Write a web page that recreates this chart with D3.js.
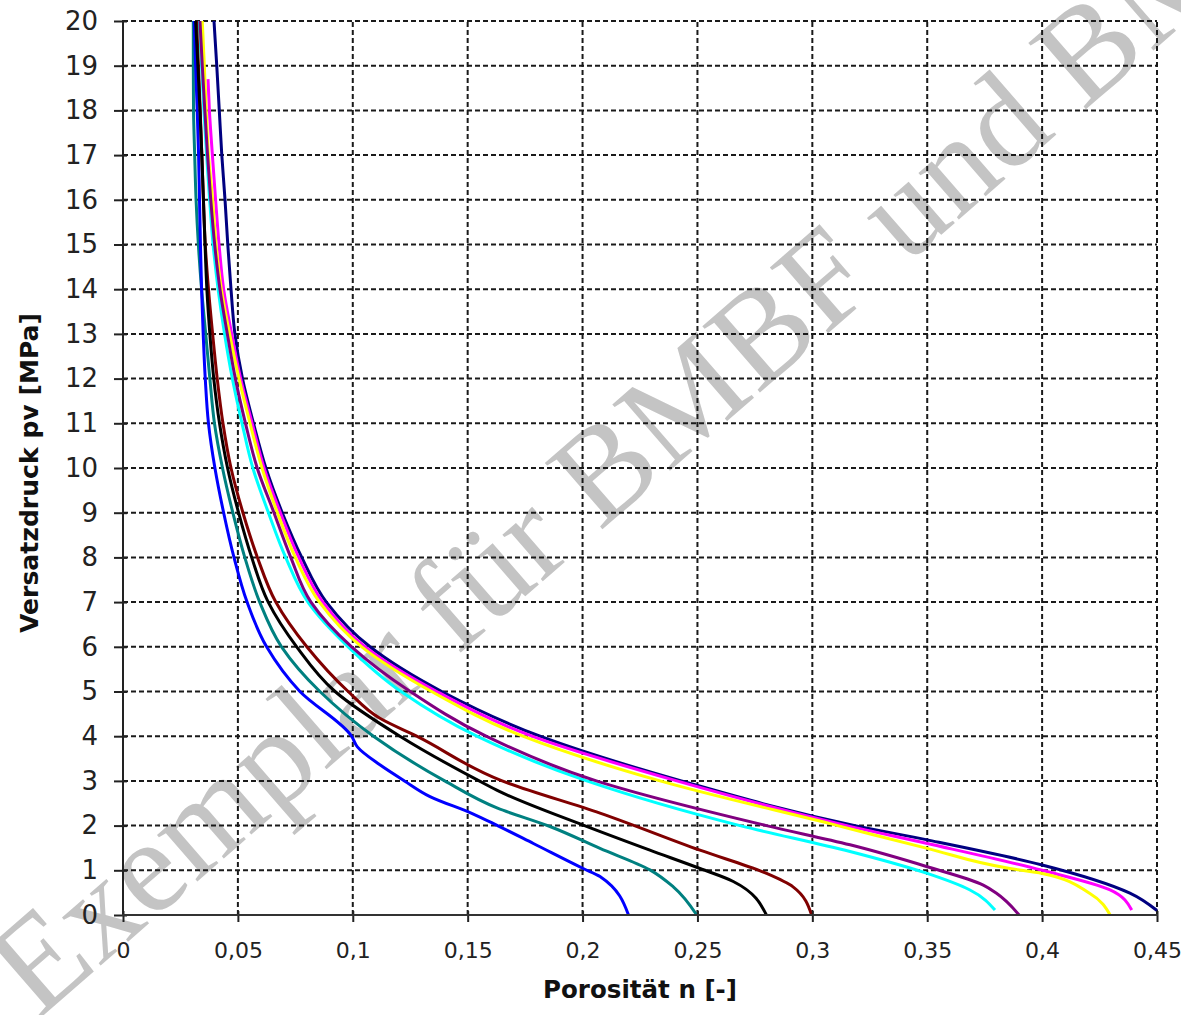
<!DOCTYPE html>
<html><head><meta charset="utf-8">
<script src="https://cdn.jsdelivr.net/npm/d3@7"></script>
<style>html,body{margin:0;padding:0;background:#fff;} svg{display:block;}</style>
</head><body>
<svg id="chart" width="1181" height="1015"></svg>
<script>
// ---- data ----
const xTickValues = [0, 0.05, 0.1, 0.15, 0.2, 0.25, 0.3, 0.35, 0.4, 0.45];
const xTickLabels = ["0", "0,05", "0,1", "0,15", "0,2", "0,25", "0,3", "0,35", "0,4", "0,45"];
const yTickValues = [0,1,2,3,4,5,6,7,8,9,10,11,12,13,14,15,16,17,18,19,20];
const yTickLabels = ["0","1","2","3","4","5","6","7","8","9","10","11","12","13","14","15","16","17","18","19","20"];
const xTitle = "Porosität n [-]";
const yTitle = "Versatzdruck pv [MPa]";
const watermark = "Exemplar für BMBF und BMWi";

// [porosity n, pressure p]
const navy = [[0.0396,20],[0.0408,19],[0.0419,18],[0.0430,17],[0.0444,16],[0.0456,15],[0.0470,14],[0.0487,13],[0.0520,12],[0.0568,11],[0.0622,10],[0.0693,9],[0.0778,8],[0.0885,7],[0.1075,6],[0.1387,5],[0.1815,4],[0.243,3],[0.3186,2],[0.350,1.68],[0.400,1.12],[0.4382,0.49],[0.450,0.1]];
const magenta = [[0.0370,18.7],[0.0376,18],[0.0389,17],[0.0403,16],[0.0418,15],[0.0438,14],[0.0473,13],[0.0512,12],[0.0562,11],[0.0614,10],[0.0685,9],[0.0765,8],[0.0870,7],[0.1053,6],[0.1365,5],[0.178,4],[0.241,3],[0.315,2],[0.350,1.6],[0.400,1.0],[0.4296,0.56],[0.439,0.11]];
const yellow = [[0.0345,20],[0.0354,19],[0.0362,18],[0.0372,17],[0.0390,16],[0.0405,15],[0.0428,14],[0.0464,13],[0.0505,12],[0.0553,11],[0.0605,10],[0.0672,9],[0.0750,8],[0.0855,7],[0.1039,6],[0.1343,5],[0.174,4],[0.2337,3],[0.311,2],[0.350,1.49],[0.386,1.04],[0.400,0.93],[0.4208,0.48],[0.4296,0]];
const cyan = [[0.0331,20],[0.0342,19],[0.0352,18],[0.0364,17],[0.0377,16],[0.0392,15],[0.0414,14],[0.0442,13],[0.0476,12],[0.0518,11],[0.0565,10],[0.0633,9],[0.0708,8],[0.0805,7],[0.0980,6],[0.1210,5],[0.154,4],[0.2018,3],[0.2685,2],[0.3164,1.42],[0.350,0.93],[0.3686,0.56],[0.3795,0.11]];
const purple = [[0.0335,20],[0.0345,19],[0.0356,18],[0.0368,17],[0.0382,16],[0.0399,15],[0.0422,14],[0.0454,13],[0.0489,12],[0.0533,11],[0.0584,10],[0.0657,9],[0.0730,8],[0.0818,7],[0.0995,6],[0.1250,5],[0.158,4],[0.206,3],[0.280,2],[0.3164,1.57],[0.350,1.08],[0.3744,0.67],[0.380,0.49],[0.390,0]];
const maroon = [[0.0320,20],[0.0328,19],[0.0336,18],[0.0343,17],[0.0350,16],[0.0358,15],[0.0372,14],[0.0390,13],[0.0410,12],[0.0435,11],[0.0470,10],[0.0522,9],[0.0585,8],[0.0665,7],[0.0800,6],[0.0980,5],[0.1118,4.4],[0.1278,4],[0.165,3],[0.2076,2.28],[0.2511,1.45],[0.2801,0.93],[0.2916,0.63],[0.2997,0]];
const teal = [[0.0306,20],[0.0306,19],[0.0307,18],[0.0312,17],[0.0318,16],[0.0328,15],[0.0342,14],[0.0360,13],[0.0378,12],[0.0398,11],[0.0433,10],[0.0478,9],[0.0530,8],[0.0595,7],[0.0690,6],[0.0857,5],[0.109,4],[0.140,3],[0.1630,2.39],[0.1858,1.98],[0.2076,1.49],[0.2293,1.01],[0.2395,0.63],[0.2497,0]];
const blue = [[0.0310,20],[0.0316,19],[0.0323,18],[0.0329,17],[0.0333,16],[0.0337,15],[0.0342,14],[0.0349,13],[0.0358,12],[0.0372,11],[0.0400,10],[0.0438,9],[0.0483,8],[0.0540,7],[0.0625,6],[0.0770,5],[0.0995,4],[0.1020,3.76],[0.1118,3.36],[0.1225,3],[0.1336,2.65],[0.1520,2.27],[0.1630,2],[0.1786,1.6],[0.2003,1.04],[0.2076,0.86],[0.220,0]];
const black = [[0.0316,20],[0.0326,19],[0.0335,18],[0.0343,17],[0.0350,16],[0.0357,15],[0.0365,14],[0.0378,13],[0.0395,12],[0.0420,11],[0.0455,10],[0.0503,9],[0.0560,8],[0.0632,7],[0.0756,6],[0.0923,5],[0.1205,4],[0.155,3],[0.164,2.76],[0.2003,2.01],[0.2293,1.45],[0.2511,1.04],[0.2656,0.75],[0.280,0]];

const seriesData = [navy, magenta, yellow, cyan, purple, maroon, teal, blue, black];
const seriesColors = ["#000080","#FF00FF","#FFFF00","#00FFFF","#800080","#800000","#008080","#0000FF","#000000"];

// ---- chart ----
const svg = d3.select("#chart");
const x = d3.scaleLinear().domain([0, 0.45]).range([123, 1157]);
const y = d3.scaleLinear().domain([0, 20]).range([915, 21]);

// watermark (beneath everything)
svg.append("text")
  .attr("transform", "translate(38,1020) rotate(-41)")
  .attr("font-family", "'Liberation Serif', 'DejaVu Serif', serif")
  .attr("font-size", 134)
  .attr("fill", "#c4c4c4")
  .text(watermark);

// gridlines
const grid = svg.append("g").attr("stroke", "#1a1a1a").attr("stroke-width", 2).attr("stroke-dasharray", "5,3");
grid.selectAll("line.h").data(yTickValues.filter(v => v > 0)).enter().append("line")
  .attr("x1", x(0)).attr("x2", x(0.45)).attr("y1", d => y(d)).attr("y2", d => y(d));
grid.selectAll("line.v").data(xTickValues.filter(v => v > 0)).enter().append("line")
  .attr("y1", y(0)).attr("y2", y(20)).attr("x1", d => x(d)).attr("x2", d => x(d));

// clip
svg.append("clipPath").attr("id", "plotclip").append("rect")
  .attr("x", x(0)).attr("y", y(20) - 1).attr("width", x(0.45) - x(0) + 3).attr("height", y(0) - y(20) + 2);

// lines
const line = d3.line().x(d => x(d[0])).y(d => y(d[1])).curve(d3.curveMonotoneY);
const lines = svg.append("g").attr("clip-path", "url(#plotclip)");
seriesData.forEach((s, i) => {
  lines.append("path").attr("d", line(s)).attr("fill", "none")
    .attr("stroke", seriesColors[i]).attr("stroke-width", 3).attr("stroke-linejoin", "round");
});

// axes
const yAxis = d3.axisLeft(y).tickValues(yTickValues).tickFormat((d, i) => yTickLabels[i]).tickSize(9).tickPadding(16);
const gy = svg.append("g").attr("transform", `translate(${x(0)},0)`).call(yAxis);
gy.select(".domain").remove();
gy.selectAll(".tick line").attr("x1", 4).attr("stroke", "#222").attr("stroke-width", 2);
gy.selectAll(".tick text").attr("font-family", "'DejaVu Sans', sans-serif").attr("font-size", 26).attr("fill", "#222");

const xAxis = d3.axisBottom(x).tickValues(xTickValues).tickFormat((d, i) => xTickLabels[i]).tickSize(7).tickPadding(20);
const gx = svg.append("g").attr("transform", `translate(0,${y(0)})`).call(xAxis);
gx.select(".domain").remove();
gx.selectAll(".tick line").attr("y1", -4).attr("stroke", "#222").attr("stroke-width", 2);
gx.selectAll(".tick text").attr("font-family", "'DejaVu Sans', sans-serif").attr("font-size", 22).attr("fill", "#222");

svg.append("line").attr("x1", x(0)).attr("x2", x(0)).attr("y1", y(20) - 1).attr("y2", y(0) + 1)
  .attr("stroke", "#222").attr("stroke-width", 2);
svg.append("line").attr("x1", x(0) - 1).attr("x2", x(0.45) + 1).attr("y1", y(0)).attr("y2", y(0))
  .attr("stroke", "#333").attr("stroke-width", 2);

// titles
svg.append("text")
  .attr("transform", "translate(38,473) rotate(-90)")
  .attr("text-anchor", "middle")
  .attr("font-family", "'DejaVu Sans', sans-serif").attr("font-weight", "bold").attr("font-size", 25)
  .attr("textLength", 320).attr("lengthAdjust", "spacingAndGlyphs")
  .attr("fill", "#111")
  .text(yTitle);
svg.append("text")
  .attr("x", 640).attr("y", 998)
  .attr("text-anchor", "middle")
  .attr("font-family", "'DejaVu Sans', sans-serif").attr("font-weight", "bold").attr("font-size", 25)
  .attr("textLength", 194).attr("lengthAdjust", "spacingAndGlyphs")
  .attr("fill", "#111")
  .text(xTitle);
</script>
</body></html>
